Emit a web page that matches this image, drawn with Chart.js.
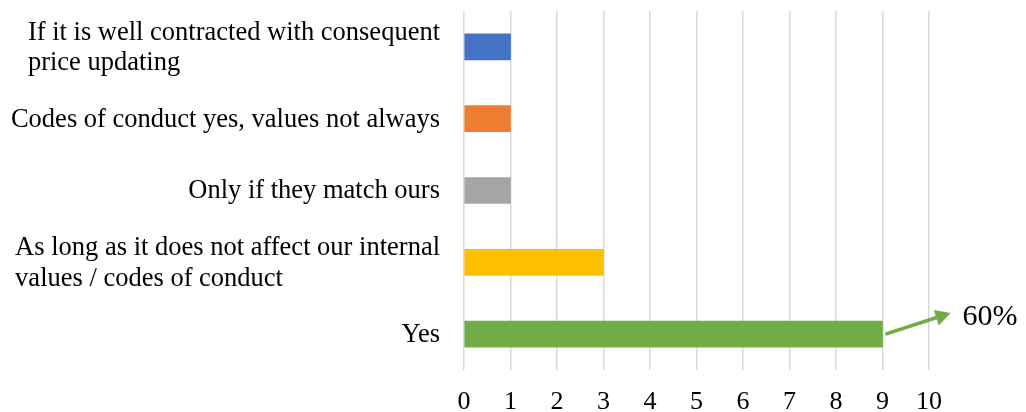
<!DOCTYPE html>
<html>
<head>
<meta charset="utf-8">
<script src="https://cdn.jsdelivr.net/npm/chart.js@4/dist/chart.umd.min.js"></script>
<style>
  html, body { margin: 0; padding: 0; background: #fff; }
  #wrap { width: 1026px; height: 412px; position: relative; }
</style>
</head>
<body>
<div id="wrap"><canvas id="chart"></canvas></div>
<script>
// Answers, top to bottom
const categories = [
  ['If it is well contracted with consequent', 'price updating'],
  'Codes of conduct yes, values not always',
  'Only if they match ours',
  ['As long as it does not affect our internal', 'values / codes of conduct'],
  'Yes'
];
const counts = [1, 1, 1, 3, 9];
const barColors = ['#4472C4', '#ED7D31', '#A5A5A5', '#FFC000', '#70AD47'];
const xTicks = [0, 1, 2, 3, 4, 5, 6, 7, 8, 9, 10];

const SERIF = "'Liberation Serif', 'Times New Roman', serif";
const total = counts.reduce((a, b) => a + b, 0);

// category labels: block sits against the axis, wrapped lines stay left-aligned
const blockLabels = {
  id: 'blockLabels',
  afterDraw(chart) {
    const y = chart.scales.y;
    const ctx = chart.ctx;
    const lineH = 30.5;
    ctx.save();
    ctx.font = '26.5px ' + SERIF;
    ctx.fillStyle = '#000';
    ctx.textAlign = 'left';
    ctx.textBaseline = 'middle';
    categories.forEach((c, i) => {
      const lines = Array.isArray(c) ? c : [c];
      const w = Math.max(...lines.map(s => ctx.measureText(s).width));
      const left = y.right - 24 - w;
      const mid = y.getPixelForTick(i);
      lines.forEach((s, j) => {
        ctx.fillText(s, left, mid + (j - (lines.length - 1) / 2) * lineH + 1);
      });
    });
    ctx.restore();
  }
};

// arrow from the end of the "Yes" bar pointing to its share of answers
const shareArrow = {
  id: 'shareArrow',
  afterDatasetsDraw(chart) {
    const idx = counts.length - 1;
    const bar = chart.getDatasetMeta(0).data[idx];
    const x0 = chart.scales.x.getPixelForValue(counts[idx]) + 3;
    const y0 = bar.y;
    const x1 = x0 + 65;
    const y1 = y0 - 21;
    const ctx = chart.ctx;
    const ang = Math.atan2(y1 - y0, x1 - x0);
    const head = 17;
    ctx.save();
    ctx.strokeStyle = '#70AD47';
    ctx.fillStyle = '#70AD47';
    ctx.lineWidth = 3.5;
    ctx.beginPath();
    ctx.moveTo(x0, y0);
    ctx.lineTo(x1 - head * 0.8 * Math.cos(ang), y1 - head * 0.8 * Math.sin(ang));
    ctx.stroke();
    ctx.beginPath();
    ctx.moveTo(x1, y1);
    ctx.lineTo(x1 - head * Math.cos(ang - 0.5), y1 - head * Math.sin(ang - 0.5));
    ctx.lineTo(x1 - head * Math.cos(ang + 0.5), y1 - head * Math.sin(ang + 0.5));
    ctx.closePath();
    ctx.fill();

    const pct = Math.round(counts[idx] / total * 100) + '%';
    ctx.fillStyle = '#000';
    ctx.font = '30px ' + SERIF;
    ctx.textAlign = 'left';
    ctx.textBaseline = 'middle';
    ctx.fillText(pct, x1 + 12, y1 + 4);
    ctx.restore();
  }
};

new Chart(document.getElementById('chart'), {
  type: 'bar',
  data: {
    labels: categories,
    datasets: [{
      data: counts,
      backgroundColor: barColors,
      barThickness: 26
    }]
  },
  options: {
    indexAxis: 'y',
    responsive: true,
    maintainAspectRatio: false,
    animation: false,
    layout: { padding: { top: 11, right: 97, bottom: 0, left: 0 } },
    plugins: { legend: { display: false }, tooltip: { enabled: false } },
    scales: {
      x: {
        min: 0,
        max: 10,
        afterBuildTicks(scale) { scale.ticks = xTicks.map(v => ({ value: v })); },
        afterFit(scale) {
          scale.height = 42;
          scale.paddingLeft = 0;
          scale.paddingRight = 0;
        },
        grid: { color: '#d9d9d9', lineWidth: 1.5, drawTicks: false },
        border: { display: false },
        ticks: { color: '#000', padding: 17, font: { family: SERIF, size: 26 } }
      },
      y: {
        afterFit(scale) {
          scale.width = 464;
          scale.paddingTop = 0;
          scale.paddingBottom = 0;
        },
        grid: { display: false, drawTicks: false },
        border: { display: false },
        ticks: { display: false }
      }
    }
  },
  plugins: [shareArrow, blockLabels]
});
</script>
</body>
</html>
